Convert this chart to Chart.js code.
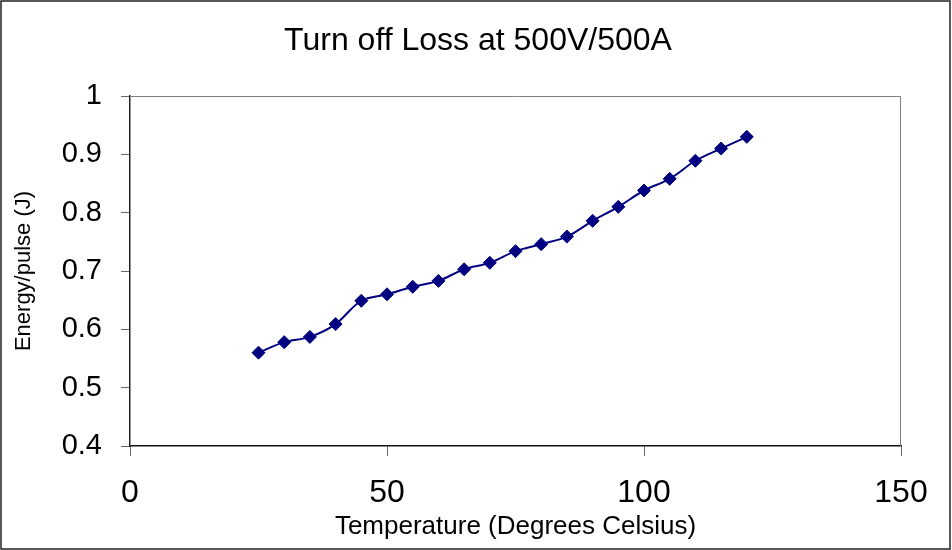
<!DOCTYPE html>
<html>
<head>
<meta charset="utf-8">
<title>Turn off Loss</title>
<script src="https://cdn.jsdelivr.net/npm/chart.js@4.4.1/dist/chart.umd.min.js"></script>
<style>
  html, body { margin: 0; padding: 0; background: #fff; }
  #wrap { width: 952px; height: 550px; }
</style>
</head>
<body>
<div id="wrap"><canvas id="lossChart" width="952" height="550"></canvas></div>
<script>
// measured turn-off energy vs. case temperature
const temperatures = [25, 30, 35, 40, 45, 50, 55, 60, 65, 70, 75, 80, 85, 90, 95, 100, 105, 110, 115, 120];
const energyPerPulse = [0.56, 0.578, 0.587, 0.609, 0.649, 0.66, 0.673, 0.683, 0.703, 0.714,
                        0.734, 0.746, 0.759, 0.786, 0.81, 0.838, 0.858, 0.889, 0.91, 0.93];

const xTickValues = [0, 50, 100, 150];
const yTickValues = [0.4, 0.5, 0.6, 0.7, 0.8, 0.9, 1];

const chartTitle = 'Turn off Loss at 500V/500A';

const FONT = '"Liberation Sans", Arial, sans-serif';
const NAVY = '#000080';

// white page + thin outer frame, gray box around the plot, centred title
const frames = {
    id: 'frames',
    beforeDraw(chart) {
        const c = chart.ctx;
        c.save();
        c.fillStyle = '#fff';
        c.fillRect(0, 0, chart.width, chart.height);
        c.strokeStyle = '#222';
        c.lineWidth = 1.5;
        c.strokeRect(1, 1, chart.width - 3, chart.height - 2);

        c.fillStyle = '#000';
        c.font = '32px ' + FONT;
        c.textAlign = 'center';
        c.textBaseline = 'alphabetic';
        c.fillText(chartTitle, chart.width / 2 + 2, 50);
        c.restore();
    },
    beforeDatasetsDraw(chart) {
        const a = chart.chartArea;
        const c = chart.ctx;
        c.save();
        c.strokeStyle = '#808080';
        c.lineWidth = 1;
        c.beginPath();
        c.moveTo(a.left, a.top + 0.5);
        c.lineTo(a.right - 0.5, a.top + 0.5);
        c.lineTo(a.right - 0.5, a.bottom);
        c.stroke();
        c.restore();
    }
};

const points = temperatures.map((t, i) => ({ x: t, y: energyPerPulse[i] }));

new Chart(document.getElementById('lossChart'), {
    type: 'line',
    data: {
        datasets: [{
            label: 'Energy/pulse',
            data: points,
            borderColor: NAVY,
            backgroundColor: NAVY,
            borderWidth: 2,
            tension: 0.35,
            pointStyle: 'rectRot',
            pointRadius: 6.5,
            pointBorderWidth: 1,
            pointBorderColor: NAVY,
            pointBackgroundColor: NAVY,
            fill: false
        }]
    },
    options: {
        responsive: false,
        animation: false,
        layout: { padding: { left: 0, right: 51, top: 96, bottom: 0 } },
        plugins: {
            legend: { display: false },
            tooltip: { enabled: false },
            title: { display: false }
        },
        scales: {
            x: {
                type: 'linear',
                min: 0,
                max: 150,
                afterBuildTicks: s => { s.ticks = xTickValues.map(v => ({ value: v })); },
                afterFit: s => { s.height = 104; },
                grid: { drawOnChartArea: false, color: '#666', tickLength: 10, tickWidth: 1 },
                border: { color: '#111', width: 1.5 },
                ticks: {
                    color: '#000',
                    padding: 18,
                    maxRotation: 0,
                    font: { family: FONT, size: 32 }
                },
                title: {
                    display: true,
                    text: 'Temperature (Degrees Celsius)',
                    color: '#000',
                    font: { family: FONT, size: 26 },
                    padding: { top: 0, bottom: 8 }
                }
            },
            y: {
                type: 'linear',
                min: 0.4,
                max: 1,
                afterBuildTicks: s => { s.ticks = yTickValues.map(v => ({ value: v })); },
                afterFit: s => { s.width = 130; },
                grid: { drawOnChartArea: false, color: '#666', tickLength: 9, tickWidth: 1 },
                border: { color: '#222', width: 1.5 },
                ticks: {
                    color: '#000',
                    padding: 19,
                    font: { family: FONT, size: 29 },
                    callback: v => String(Number(v.toFixed(1)))
                },
                title: {
                    display: true,
                    text: 'Energy/pulse (J)',
                    color: '#000',
                    font: { family: FONT, size: 22 },
                    padding: { top: 11, bottom: 0 }
                }
            }
        }
    },
    plugins: [frames]
});
</script>
</body>
</html>
